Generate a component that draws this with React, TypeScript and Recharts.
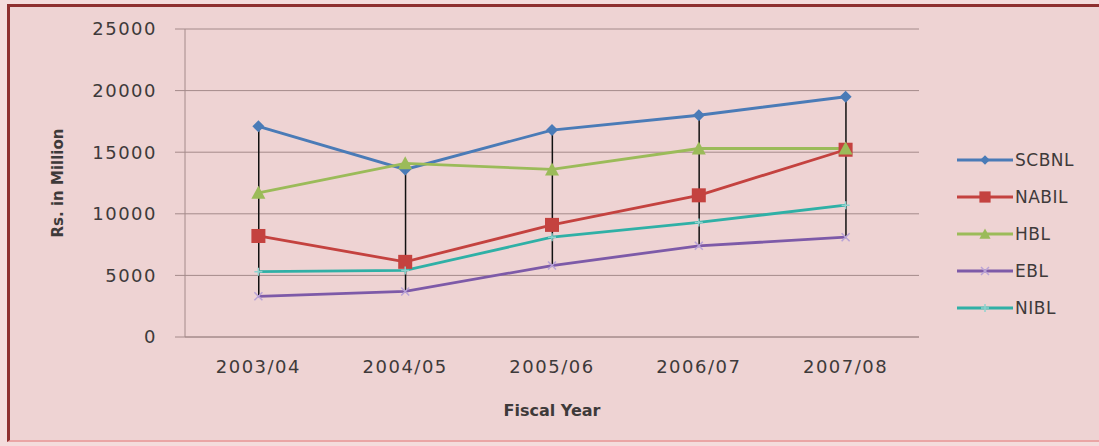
import React from 'react';
import { ComposedChart, Bar, Line, XAxis, YAxis, CartesianGrid } from 'recharts';

const years = ['2003/04', '2004/05', '2005/06', '2006/07', '2007/08'];
const scbnl = [17100, 13600, 16800, 18000, 19500];
const nabil = [8200, 6100, 9100, 11500, 15200];
const hbl = [11700, 14100, 13600, 15300, 15300];
const ebl = [3300, 3700, 5800, 7400, 8100];
const nibl = [5300, 5400, 8100, 9300, 10700];
const yTicks = [0, 5000, 10000, 15000, 20000, 25000];

const FONT = '"DejaVu Sans", sans-serif';
const TEXT = '#3e3a3a';
const GRID = '#a48a8a';

type Marker = 'diamond' | 'square' | 'triangle' | 'cross' | 'star';

const seriesList: { key: string; name: string; values: number[]; color: string; marker: Marker }[] = [
  { key: 'scbnl', name: 'SCBNL', values: scbnl, color: '#4a7bb7', marker: 'diamond' },
  { key: 'nabil', name: 'NABIL', values: nabil, color: '#c4423f', marker: 'square' },
  { key: 'hbl', name: 'HBL', values: hbl, color: '#9bbb59', marker: 'triangle' },
  { key: 'ebl', name: 'EBL', values: ebl, color: '#7d5aa8', marker: 'cross' },
  { key: 'nibl', name: 'NIBL', values: nibl, color: '#2fb0a6', marker: 'star' },
];

const data = years.map((year, i) => {
  const row: Record<string, any> = { year };
  const vals = seriesList.map((s) => s.values[i]);
  seriesList.forEach((s) => (row[s.key] = s.values[i]));
  // high-low line between the smallest and largest value of the year
  row.range = [Math.min(...vals), Math.max(...vals)];
  return row;
});

function markerShape(marker: Marker, cx: number, cy: number, color: string, k = 1) {
  switch (marker) {
    case 'diamond':
      return <path d={`M${cx},${cy - 6 * k}L${cx + 6 * k},${cy}L${cx},${cy + 6 * k}L${cx - 6 * k},${cy}Z`} fill={color} />;
    case 'square':
      return <rect x={cx - 7 * k} y={cy - 7 * k} width={14 * k} height={14 * k} fill={color} />;
    case 'triangle':
      return <path d={`M${cx},${cy - 7 * k}L${cx + 7 * k},${cy + 6 * k}L${cx - 7 * k},${cy + 6 * k}Z`} fill={color} />;
    case 'cross':
      return (
        <path d={`M${cx - 4},${cy - 4}L${cx + 4},${cy + 4}M${cx + 4},${cy - 4}L${cx - 4},${cy + 4}`} stroke="#b9a3d6" strokeWidth={1.5} />
      );
    default:
      return (
        <path d={`M${cx - 4},${cy}L${cx + 4},${cy}M${cx},${cy - 4}L${cx},${cy + 4}`} stroke="#8fd3cf" strokeWidth={1.5} />
      );
  }
}

function makeDot(marker: Marker, color: string) {
  return (props: any) => {
    const { cx, cy, index } = props;
    if (cx == null || cy == null) return <g key={index} />;
    return <g key={`d-${index}`}>{markerShape(marker, cx, cy, color)}</g>;
  };
}

function YLabel(props: any) {
  const vb = props.viewBox || { x: 0, y: 0, width: 0, height: 0 };
  const x = vb.x + 58;
  const y = vb.y + vb.height / 2;
  return (
    <text x={x} y={y} transform={`rotate(-90 ${x} ${y})`} textAnchor="middle" dominantBaseline="central"
      fontFamily={FONT} fontSize={15} fontWeight="bold" fill={TEXT}>
      Rs. in Million
    </text>
  );
}

function XLabel(props: any) {
  const vb = props.viewBox || { x: 0, y: 0, width: 0, height: 0 };
  return (
    <text x={vb.x + vb.width / 2} y={vb.y + 73} textAnchor="middle" dominantBaseline="central"
      fontFamily={FONT} fontSize={16} fontWeight="bold" fill={TEXT}>
      Fiscal Year
    </text>
  );
}

export default function App() {
  return (
    <div style={{ position: 'fixed', left: 0, top: 0, width: 1099, height: 446, background: '#f4dcdc', overflow: 'hidden' }}>
      <div
        style={{
          position: 'absolute', left: 7, top: 4, width: 1100, height: 433,
          borderTop: '3px solid #8e2f2f', borderLeft: '3px solid #8e2f2f', borderBottom: '2px solid #eaa5a5',
          background: '#eed3d3',
        }}
      />
      <div style={{ position: 'absolute', left: 0, top: 0 }}>
        <ComposedChart width={1099} height={446} data={data} margin={{ top: 29, right: 180, bottom: 0, left: 0 }}>
          <CartesianGrid vertical={false} stroke={GRID} strokeWidth={1} />
          <XAxis
            dataKey="year"
            height={109}
            tickLine={false}
            tickSize={0}
            tickMargin={23}
            axisLine={{ stroke: GRID }}
            tick={{ fontFamily: FONT, fontSize: 18, fill: TEXT, letterSpacing: 1.5 }}
            label={<XLabel />}
          />
          <YAxis
            width={185}
            domain={[0, 25000]}
            ticks={yTicks}
            tickSize={10}
            tickMargin={18}
            tickLine={{ stroke: GRID }}
            axisLine={{ stroke: GRID }}
            tick={{ fontFamily: FONT, fontSize: 18, fill: TEXT, letterSpacing: 1.5 }}
            label={<YLabel />}
          />
          <Bar dataKey="range" barSize={1.5} fill="#111" isAnimationActive={false} />
          {seriesList.map((s) => (
            <Line
              key={s.key}
              type="linear"
              dataKey={s.key}
              name={s.name}
              stroke={s.color}
              strokeWidth={2.8}
              dot={makeDot(s.marker, s.color)}
              activeDot={false}
              isAnimationActive={false}
            />
          ))}
        </ComposedChart>
      </div>
      <div style={{ position: 'absolute', left: 957, top: 141 }}>
        {seriesList.map((s) => (
          <div key={s.key} style={{ display: 'flex', alignItems: 'center', height: 37 }}>
            <svg width={58} height={24}>
              <line x1={0} y1={12} x2={56} y2={12} stroke={s.color} strokeWidth={2.8} />
              {markerShape(s.marker, 28, 12, s.color, 0.8)}
            </svg>
            <span style={{ fontFamily: FONT, fontSize: 17, color: TEXT, letterSpacing: 0.5, lineHeight: '20px' }}>{s.name}</span>
          </div>
        ))}
      </div>
    </div>
  );
}
